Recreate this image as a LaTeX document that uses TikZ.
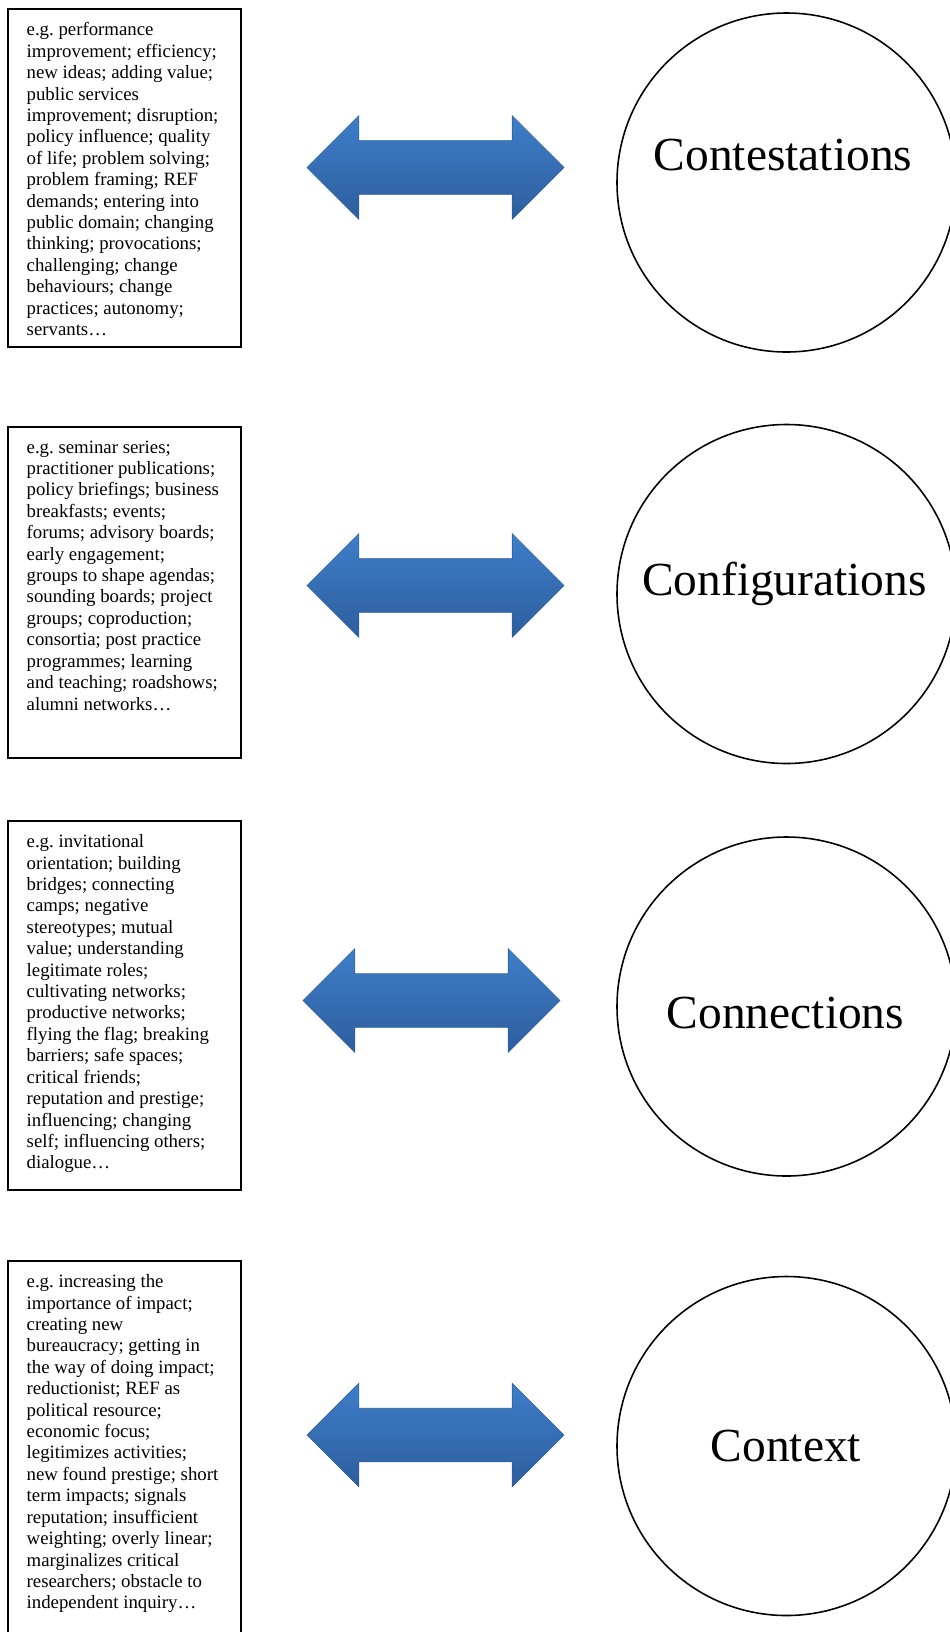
\documentclass[tikz,border=0pt]{standalone}
\usepackage{fontspec}
\setmainfont{Liberation Serif}
\usetikzlibrary{shapes.arrows}
\definecolor{arrowtop}{RGB}{62,126,201}
\definecolor{arrowbot}{RGB}{45,94,158}
\frenchspacing

\begin{document}
\begin{tikzpicture}
[line width=0.75pt,
item/.style={rectangle, draw, line width=1.1pt, inner sep=0pt, minimum width=4.66cm},
itemtext/.style={anchor=north west, align=left, inner sep=0pt, font=\fontsize{10.7}{12.18}\selectfont},
concept/.style={circle, draw, line width=0.9pt, inner sep=0pt, minimum size=6.78cm},
conceptlabel/.style={anchor=base, inner sep=0pt, font=\fontsize{27}{32}\selectfont},
twoway/.style={double arrow, inner xsep=0pt, inner ysep=0.53cm, minimum height=5.14cm, minimum width=2.06cm, double arrow head extend=0.5cm, top color=arrowtop, bottom color=arrowbot, draw=arrowbot, line width=0.3pt}]

\clip (0,0) rectangle (19,-32.64);

% boxes with examples
\node[item, minimum height=6.76cm] (box1) at (2.49,-3.56) {};
\node[item, minimum height=6.62cm] (box2) at (2.49,-11.85) {};
\node[item, minimum height=7.38cm] (box3) at (2.49,-20.11) {};
\node[item, minimum height=7.78cm] (box4) at (2.49,-29.11) {};

\node[itemtext, xshift=0.38cm, yshift=-0.28cm] (text1) at (box1.north west) {e.g. performance\\improvement; efficiency;\\new ideas; adding value;\\public services\\improvement; disruption;\\policy influence; quality\\of life; problem solving;\\problem framing; REF\\demands; entering into\\public domain; changing\\thinking; provocations;\\challenging; change\\behaviours; change\\practices; autonomy;\\servants…};
\node[itemtext, xshift=0.38cm, yshift=-0.28cm] (text2) at (box2.north west) {e.g. seminar series;\\practitioner publications;\\policy briefings; business\\breakfasts; events;\\forums; advisory boards;\\early engagement;\\groups to shape agendas;\\sounding boards; project\\groups; coproduction;\\consortia; post practice\\programmes; learning\\and teaching; roadshows;\\alumni networks…};
\node[itemtext, xshift=0.38cm, yshift=-0.28cm] (text3) at (box3.north west) {e.g. invitational\\orientation; building\\bridges; connecting\\camps; negative\\stereotypes; mutual\\value; understanding\\legitimate roles;\\cultivating networks;\\productive networks;\\flying the flag; breaking\\barriers; safe spaces;\\critical friends;\\reputation and prestige;\\influencing; changing\\self; influencing others;\\dialogue…};
\node[itemtext, xshift=0.38cm, yshift=-0.28cm] (text4) at (box4.north west) {e.g. increasing the\\importance of impact;\\creating new\\bureaucracy; getting in\\the way of doing impact;\\reductionist; REF as\\political resource;\\economic focus;\\legitimizes activities;\\new found prestige; short\\term impacts; signals\\reputation; insufficient\\weighting; overly linear;\\marginalizes critical\\researchers; obstacle to\\independent inquiry…};

% two-way arrows
\node[twoway] (arrow1) at (8.71,-3.35) {};
\node[twoway] (arrow2) at (8.71,-11.71) {};
\node[twoway] (arrow3) at (8.63,-20.01) {};
\node[twoway] (arrow4) at (8.71,-28.70) {};

% circles
\node[concept] (circle1) at (15.73,-3.65) {};
\node[concept] (circle2) at (15.73,-11.88) {};
\node[concept] (circle3) at (15.73,-20.13) {};
\node[concept] (circle4) at (15.73,-28.92) {};

\node[conceptlabel] (contestations) at (15.66,-3.40) {Contestations};
\node[conceptlabel] (configurations) at (15.69,-11.90) {Configurations};
\node[conceptlabel] (connections) at (15.71,-20.56) {Connections};
\node[conceptlabel] (context) at (15.72,-29.22) {Context};
\end{tikzpicture}
\end{document}
